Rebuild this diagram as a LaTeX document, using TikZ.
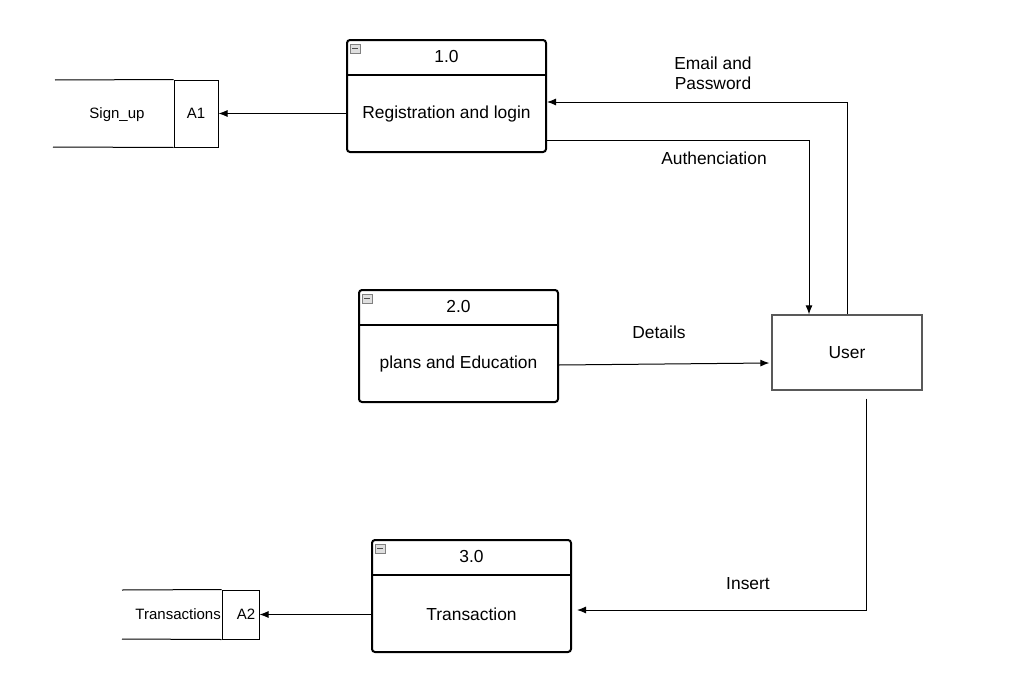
\documentclass[tikz,border=0pt]{standalone}
\usepackage{fontspec}
\setmainfont{Liberation Sans}
\usetikzlibrary{arrows.meta}
\begin{document}
\begin{tikzpicture}[x=1pt,y=-1pt,>={Latex[length=9pt,width=7pt]},
  proc/.style={draw,line width=2pt,rounded corners=3pt,minimum width=199pt,minimum height=112pt,inner sep=0pt},
  cell/.style={draw,line width=1pt,inner sep=0pt,font=\fontsize{15}{17}\selectfont},
  txt/.style={font=\fontsize{17.4}{20}\selectfont,align=center,inner sep=0pt},
  small/.style={font=\fontsize{15}{17}\selectfont,inner sep=0pt},
  flow/.style={->,line width=1pt}]
\useasboundingbox (0,0) rectangle (1018,680);

% Processes
\node[proc] (p1) at (446.5,96) {};
\node[proc] (p2) at (458.5,346) {};
\node[proc] (p3) at (471.5,596) {};
\foreach \p/\n/\t in {p1/1.0/Registration and login,p2/2.0/plans and Education,p3/3.0/Transaction}{
  \draw[line width=2pt] ([yshift=-36pt]\p.north west) -- ([yshift=-36pt]\p.north east);
  \node[txt] (\p num) at ([yshift=-17.5pt]\p.north) {\n};
  \node[txt] (\p name) at ([yshift=-18pt]\p.center) {\t};
  % collapse icon
  \draw[gray,fill=gray!25,line width=0.7pt] ([xshift=4pt,yshift=-5pt]\p.north west) rectangle ([xshift=14pt,yshift=-14pt]\p.north west);
  \draw[black!70,line width=0.9pt] ([xshift=6pt,yshift=-9.5pt]\p.north west) -- ([xshift=12pt,yshift=-9.5pt]\p.north west);
}

% Data stores
\node[cell,minimum width=44pt,minimum height=67pt] (a1) at (196,113.5) {A1};
\draw[line width=1pt] (55,80) -- (a1.north west);
\draw[line width=1pt] (53,147) -- (a1.south west);
\node[small] (signup) at (117,115) {Sign\_up};

\node[cell,minimum width=37pt,minimum height=49pt] (a2) at (240.5,614.5) {\hspace*{11pt}A2};
\draw[line width=1pt] (122,590) -- (a2.north west);
\draw[line width=1pt] (122,639) -- (a2.south west);
\node[small,anchor=east] (trans) at (221,614) {Transactions};

% External entity
\node[draw=black!65,line width=1.3pt,minimum width=150pt,minimum height=75pt,txt] (user) at (847,352.5) {User};

% Flows
\draw[flow] (p1.west |- a1) -- (a1.east);
\draw[flow] (user.north) |- ([yshift=-6pt]p1.east);
\draw[flow] ([yshift=-44pt]p1.east) -| ([xshift=-38pt]user.north);
\draw[flow] ([yshift=-19pt]p2.east) -- ([xshift=-2pt,yshift=-10.5pt]user.west);
\draw[flow] ([xshift=19pt,yshift=-8pt]user.south) |- ([xshift=5pt,yshift=-14pt]p3.east);
\draw[flow] (p3.west |- a2) -- (a2.east);

% Flow labels
\node[txt] (lemail) at (713,73) {Email and\\Password};
\node[txt] (lauth) at (714,158) {Authenciation};
\node[txt] (ldet) at (659,332) {Details};
\node[txt] (lins) at (748,584) {Insert};

\end{tikzpicture}
\end{document}
